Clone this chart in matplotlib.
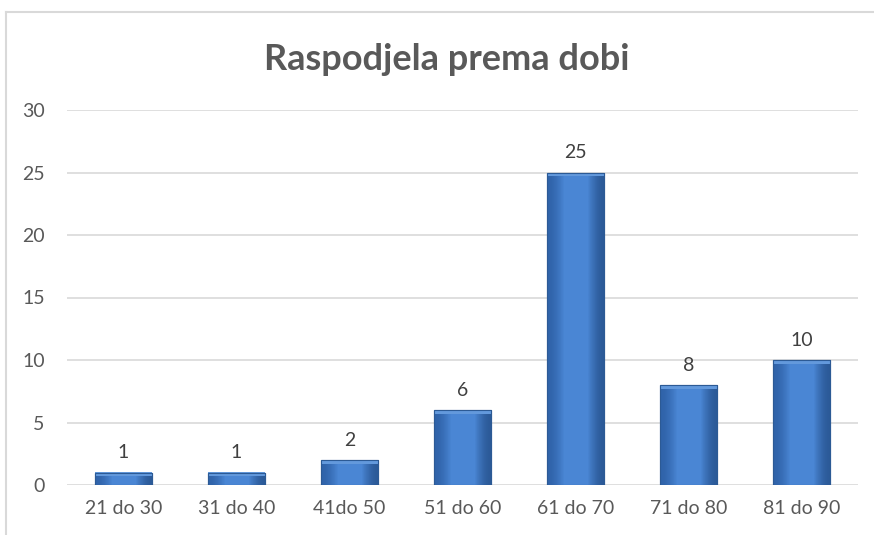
import matplotlib.pyplot as plt
import numpy as np
from matplotlib.lines import Line2D
from matplotlib.colors import LinearSegmentedColormap

# data
categories = ["21 do 30", "31 do 40", "41do 50", "51 do 60", "61 do 70", "71 do 80", "81 do 90"]
counts = [1, 1, 2, 6, 25, 8, 10]
yticks = [0, 5, 10, 15, 20, 25, 30]

W, H = 874, 535
fig = plt.figure(figsize=(W / 100, H / 100), dpi=100)
plt.rcParams['font.family'] = ['Lato', 'DejaVu Sans']

# axes placed in pixel terms
x0, x1 = 67, 858
ytop, ybot = 110, 485
ax = fig.add_axes([x0 / W, 1 - ybot / H, (x1 - x0) / W, (ybot - ytop) / H])

# light frame around chart area (top and left edges visible)
fig.add_artist(Line2D([6 / W, 1], [1 - 12 / H, 1 - 12 / H], transform=fig.transFigure,
                      color="#d9d9d9", lw=1.5))
fig.add_artist(Line2D([6 / W, 6 / W], [0, 1 - 12 / H], transform=fig.transFigure,
                      color="#d9d9d9", lw=1.5))

# gridlines
for t in yticks:
    ax.axhline(t, color="#d9d9d9", lw=1.2, zorder=0)

# bars with a bevelled gradient look
width = 0.51
grad = np.array([[0.0, 0.25, 0.5, 0.75, 1.0]])
cmap = LinearSegmentedColormap.from_list("bev", ["#2f62a8", "#4a86d4", "#4a86d4", "#4a86d4", "#2a5896"])
bars = ax.bar(range(len(categories)), counts, width=width, color="#4281d0",
              edgecolor="#2c5a95", lw=0.8, zorder=2)
for b in bars:
    bx, by, bw, bh = b.get_x(), b.get_y(), b.get_width(), b.get_height()
    im = ax.imshow(grad, cmap=cmap, aspect="auto", extent=[bx, bx + bw, by, by + bh],
                   zorder=2.5, interpolation="bicubic")
    im.set_clip_path(b)
    # light top bevel strip
    ax.fill_between([bx, bx + bw], by + bh - min(0.3, bh * 0.3), by + bh,
                    color="#6399dc", lw=0, zorder=2.6)
    ax.bar(b.get_x() + bw / 2, bh, width=bw, fill=False, edgecolor="#2c5a95", lw=0.8, zorder=3)
ax.set_xlim(-0.5, len(categories) - 0.5)
ax.set_ylim(0, 30)

for i, v in enumerate(counts):
    ax.annotate(str(v), (i, v), xytext=(0, 8), textcoords="offset points",
                ha="center", va="bottom", fontsize=14, color="#404040")

ax.set_xticks(range(len(categories)))
ax.set_xticklabels(categories, fontsize=14, color="#595959")
ax.set_yticks(yticks)
ax.set_yticklabels([str(t) for t in yticks], fontsize=14, color="#595959")
ax.tick_params(length=0, axis="x", pad=11)
ax.tick_params(length=0, axis="y", pad=16)
for s in ax.spines.values():
    s.set_visible(False)

fig.text(447 / W, 1 - 60 / H, "Raspodjela prema dobi", ha="center", va="center",
         fontsize=26, fontweight="bold", color="#595959")

fig.savefig("out.png", dpi=100)
